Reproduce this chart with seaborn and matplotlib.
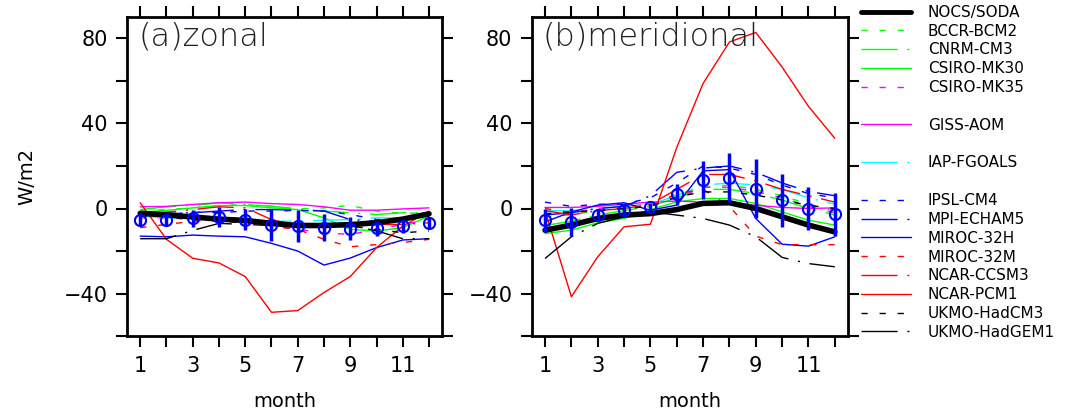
import numpy as np
import pandas as pd
import matplotlib
matplotlib.use("Agg")
import matplotlib.pyplot as plt
import seaborn as sns
from matplotlib.lines import Line2D

months = list(range(1, 13))

# observations (NOCS/SODA) and multi-model mean +/- spread (blue circles)
zonal_obs = [-2.3, -3, -4, -5, -5.6, -7, -8, -8, -7.6, -6.7, -5, -2.5]
zonal_mean = [-5.2, -5.2, -4.7, -4, -5.2, -7.7, -8.4, -9, -9.5, -9.4, -8.3, -6.7]
zonal_err = [3, 2.5, 4, 4.5, 5, 7.5, 7.5, 6.5, 5.5, 3.7, 3, 2.3]
merid_obs = [-10.2, -7.8, -4.7, -3.1, -2.4, -0.5, 2.4, 2.7, 0, -3.9, -7.8, -11]
merid_mean = [-5.5, -6.3, -3.1, -0.8, 0.8, 6.6, 13.3, 14.4, 9.4, 3.9, 0, -2.8]
merid_err = [5.5, 6.5, 3, 2.3, 2, 5, 9, 11.5, 14, 12.5, 10, 10]

models = ["BCCR-BCM2", "CNRM-CM3", "CSIRO-MK30", "CSIRO-MK35", "GISS-AOM",
          "IAP-FGOALS", "IPSL-CM4", "MPI-ECHAM5", "MIROC-32H", "MIROC-32M",
          "NCAR-CCSM3", "NCAR-PCM1", "UKMO-HadCM3", "UKMO-HadGEM1"]

zonal_bccr = [-1.2, -0.5, 0.3, 1.4, 1.9, 1, -0.2, 0.3, 1.4, -1.2, -2.3, -2]
zonal_cnrm = [-0.5, 0.8, 1.4, 2.7, 1.9, 1.1, -0.2, -1.2, -2, -2.8, -2, -2]
zonal_mk30 = [-1.7, -0.9, 0.3, 1.4, 1.4, 0.3, -0.5, -4.4, -9.8, -10.6, -9, -3.6]
zonal_mk35 = [-4.4, -4.4, -5.2, -5.2, -6.7, -8.3, -9.8, -11.4, -12.2, -9.8, -7.5, -5.2]
zonal_giss = [0.8, 1, 1.9, 2.7, 3, 2.3, 1.9, 0.8, -0.8, -0.8, -0.2, 0.3]
zonal_iap = [-3.6, -4.4, -4.4, -4.8, -5.2, -6, -6, -5.5, -5.2, -4.4, -4.4, -3.6]
zonal_ipsl = [-2.8, -2.8, -1.7, -2, -1.2, -1.2, -0.9, -1.2, -2.8, -5.2, -5.2, -3.6]
zonal_mpi = [-2.8, -2.3, -2, -1.2, -0.5, -0.5, -0.8, -1.2, -5.2, -6, -5.2, -3.6]
zonal_miroch = [-13, -13.3, -12.5, -13, -13.3, -16.4, -20, -26.6, -23.3, -18.4, -14.8, -14.2]
zonal_mirocm = [-9, -7.5, -6, -5.2, -4.4, -8.3, -9.8, -14.5, -18, -17, -16, -14.5]
zonal_ccsm = [-2, -1.7, -0.5, 0.8, 0.3, -5.2, -8, -7.5, -7, -7.5, -7.5, -6.7]
zonal_pcm = [2.7, -14.5, -23.4, -25.6, -32, -48.8, -48, -39.5, -32, -18.4, -8.3, -1.3]
zonal_hadcm3 = [-3.6, -3.6, -5.2, -6, -6.7, -7.5, -8, -8, -8.3, -9.8, -11.4, -10.6]
zonal_hadgem = [-14.2, -14.2, -10.3, -7, -7.5, -8, -8, -7.5, -8, -10.5, -14.2, -14.2]

merid_bccr = [-4, -3, -1, 0, 2, 6, 10, 11, 9, 6, 2, -1]
merid_cnrm = [-8, -6, -3, -1, 1, 5, 9, 9, 7, 4, 0, -3]
merid_mk30 = [-11.8, -10.2, -6.7, -4.7, -0.5, 3.1, 4.7, 4.7, 2.4, -1.6, -5.5, -7.8]
merid_mk35 = [-3, -2, 0, 1, 2, 5, 10, 10, 8, 5, 1, -2]
merid_giss = [0.5, 0.5, 1, 2, 3, 3.5, 3, 3, 1.5, 0.5, 0, 0.3]
merid_iap = [-1, -1, 0, 1, 2, 6, 11, 12, 11, 9, 5, 2]
merid_ipsl = [3, 1, 2, 2, 5, 12, 20, 19, 16, 11, 7, 5]
merid_mpi = [-3, -2, 0, 1, 6, 17, 19, 20, 17, 12, 8, 6]
merid_miroch = [-6.3, -1.6, 1.6, 2.7, -0.8, 1.6, 17.7, 18.3, -4.7, -16.8, -17.7, -13.3]
merid_mirocm = [0, -2, -1, 0, 1, 7, 9, 1, -13, -17, -17, -17]
merid_ccsm = [-1, -3, -1, 0, 2, 9, 16, 16, 13, 9, 6, 3]
merid_pcm = [-1, -41.5, -22.7, -8.6, -7.4, 28.7, 58.8, 78.3, 82.8, 66.5, 48, 33]
merid_hadcm3 = [-2.5, -1.5, -1, 0, 1, 5.5, 7.8, 7.8, 6.3, 4, 1.5, 0]
merid_hadgem = [-23.5, -13.3, -7, -3.9, -1.6, -3.1, -4.7, -7.8, -13.3, -23, -25.9, -27.4]

zonal_models = [zonal_bccr, zonal_cnrm, zonal_mk30, zonal_mk35, zonal_giss, zonal_iap,
                zonal_ipsl, zonal_mpi, zonal_miroch, zonal_mirocm, zonal_ccsm, zonal_pcm,
                zonal_hadcm3, zonal_hadgem]
merid_models = [merid_bccr, merid_cnrm, merid_mk30, merid_mk35, merid_giss, merid_iap,
                merid_ipsl, merid_mpi, merid_miroch, merid_mirocm, merid_ccsm, merid_pcm,
                merid_hadcm3, merid_hadgem]

dash = (0, (4.5, 8.5))
dashdot = (0, (26, 7, 1.5, 7))
styles = {
    "BCCR-BCM2": ("#00ff00", dash), "CNRM-CM3": ("#00ff00", dashdot),
    "CSIRO-MK30": ("#00ff00", "-"), "CSIRO-MK35": ("#ff00ff", dash),
    "GISS-AOM": ("#ff00ff", "-"), "IAP-FGOALS": ("#00ffff", dashdot),
    "IPSL-CM4": ("#0000ff", dash), "MPI-ECHAM5": ("#0000ff", dashdot),
    "MIROC-32H": ("#0000ff", "-"), "MIROC-32M": ("#ff0000", dash),
    "NCAR-CCSM3": ("#ff0000", dashdot), "NCAR-PCM1": ("#ff0000", "-"),
    "UKMO-HadCM3": ("#000000", dash), "UKMO-HadGEM1": ("#000000", dashdot),
}

sns.set_style("ticks")
plt.rcParams["font.family"] = ["DejaVu Sans"]
plt.rcParams["text.color"] = "black"
plt.rcParams["axes.labelcolor"] = "black"

fig = plt.figure(figsize=(10.68, 4.17), dpi=100)
ax1 = fig.add_axes([0.119, 0.194, 0.295, 0.765])
ax2 = fig.add_axes([0.498, 0.194, 0.296, 0.765])

panels = [(ax1, zonal_models, zonal_obs, zonal_mean, zonal_err, "(a)zonal"),
          (ax2, merid_models, merid_obs, merid_mean, merid_err, "(b)meridional")]

for ax, mdata, obs, mean, err, title in panels:
    for name, vals in zip(models, mdata):
        col, ls = styles[name]
        df = pd.DataFrame({"month": months, "value": vals})
        sns.lineplot(data=df, x="month", y="value", ax=ax, color=col, lw=1.0,
                     linestyle=ls)
    df = pd.DataFrame({"month": months, "value": obs})
    sns.lineplot(data=df, x="month", y="value", ax=ax, color="black", lw=4)
    ax.errorbar(months, mean, yerr=err, fmt="o", mfc="none", mec="#0000ff",
                ms=8, mew=1.5, ecolor="#0000ff", elinewidth=2.5, capsize=0)
    ax.set_xlim(0.5, 12.5)
    ax.set_ylim(-60, 90)
    ax.set_xticks(months)
    ax.set_xticklabels([str(m) if m % 2 == 1 else "" for m in months])
    ax.set_yticks([-40, 0, 40, 80])
    ax.set_yticks([-60, -20, 20, 60], minor=True)
    ax.tick_params(which="both", direction="out", length=8, width=1.5,
                   top=True, right=True, labelsize=15, pad=6,
                   color="black", labelcolor="black")
    for s in ax.spines.values():
        s.set_visible(True)
        s.set_linewidth(2)
        s.set_color("black")
    ax.set_xlabel("month", fontsize=14, labelpad=12)
    ax.set_ylabel("")
    ax.text(0.035, 0.985, title, transform=ax.transAxes, fontsize=23,
            va="top", ha="left", color="#222222", fontweight="light")

ax1.set_ylabel("W/m2", fontsize=14, labelpad=20)

# legend with blank rows where the original has gaps
handles = [Line2D([], [], color="black", lw=3.5)]
labels = ["NOCS/SODA"]
blank_after = {"CSIRO-MK35", "GISS-AOM", "IAP-FGOALS"}
for name in models:
    col, ls = styles[name]
    handles.append(Line2D([], [], color=col, lw=1.0, linestyle=ls))
    labels.append(name)
    if name in blank_after:
        handles.append(Line2D([], [], color="none"))
        labels.append("")
fig.legend(handles, labels, loc="upper left", bbox_to_anchor=(0.800, 1.003),
           frameon=False, fontsize=11, handlelength=3.3, handletextpad=1.1,
           labelspacing=0.25, borderaxespad=0)

fig.savefig("out.png", dpi=100)
